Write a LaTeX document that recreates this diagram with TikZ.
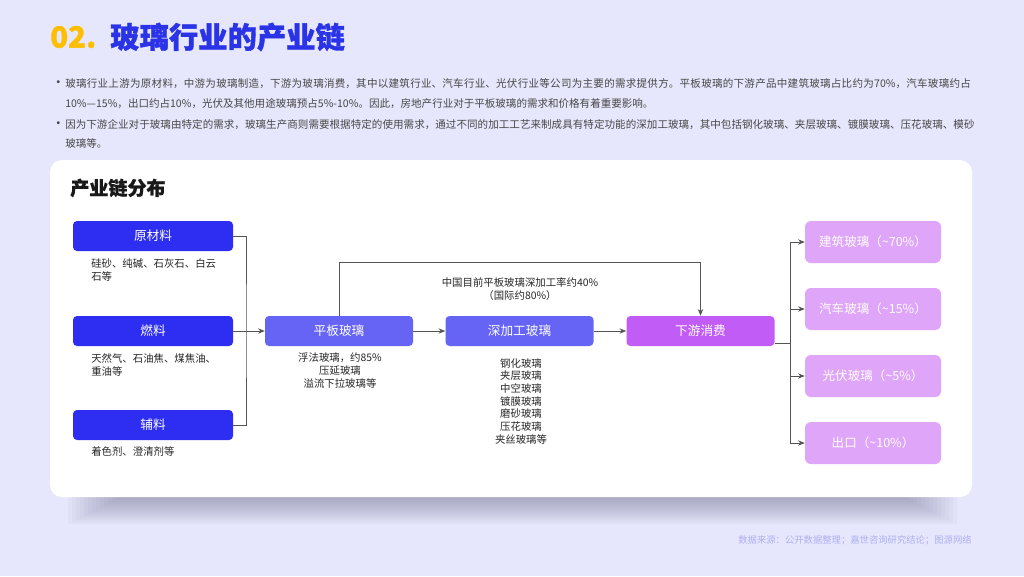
\documentclass[tikz,border=0pt]{standalone}
\usepackage{fontspec}
\setmainfont{Noto Sans CJK SC}
\usetikzlibrary{arrows.meta,calc}
\XeTeXlinebreaklocale "zh"
\XeTeXlinebreakskip=0pt plus 1pt

\definecolor{pagebg}{HTML}{E6E7FC}
\definecolor{shadowgray}{HTML}{6E6C8C}
\definecolor{titleyellow}{HTML}{FFBE00}
\definecolor{titleblue}{HTML}{2B33E6}
\definecolor{inputblue}{HTML}{2E2EF2}
\definecolor{midblue}{HTML}{6564F4}
\definecolor{downpurple}{HTML}{C15DF6}
\definecolor{endpurple}{HTML}{DFA5F8}
\definecolor{linegray}{HTML}{555555}
\definecolor{textdark}{HTML}{262626}
\definecolor{sourcegray}{HTML}{AEB0F2}

\tikzset{
  heading/.style={anchor=west, inner sep=0pt, font=\fontsize{22}{24}\bfseries\addfontfeature{FakeBold=1.2}},
  inbox/.style={fill=inputblue, text=white, rounded corners=3pt, minimum width=120pt, minimum height=22.5pt, font=\fontsize{9.5}{11}\selectfont},
  midbox/.style={inbox, fill=midblue, minimum width=111pt},
  endbox/.style={fill=endpurple, text=white, rounded corners=4.5pt, minimum width=102pt, minimum height=31.5pt, font=\fontsize{9.4}{11}\selectfont},
  desc/.style={text=textdark, inner sep=0pt, font=\fontsize{7.8}{9.75}\selectfont},
  bodyline/.style={text=textdark!85, inner sep=0pt, anchor=base west, font=\fontsize{7.9}{10}\selectfont},
  bodyfull/.style={bodyline, text width=682.5pt, execute at begin node={\parfillskip=0pt\relax}},
  bulletmark/.style={bodyline, font=\fontsize{10.5}{10}\selectfont},
  link/.style={draw=linegray, line width=0.6pt},
  linkarrow/.style={link, -{Stealth[length=5pt,width=4pt]}}
}

\begin{document}
\begin{tikzpicture}[x=0.75pt, y=0.75pt]
    % Page background, 1024 x 576 px
    \fill[pagebg] (0,0) rectangle (1024,-576);
    \useasboundingbox (0,0) rectangle (1024,-576);

    % Title
    \node[heading, text=titleyellow] (titlenum) at (50,-37) {02.};
    \node[heading, text=titleblue] (titletext) at (110,-37) {玻璃行业的产业链};

    % Bullet text (baselines)
    \node[bulletmark] (bul1) at (51,-87.5) {•};
    \node[bodyfull] (para1a) at (65,-87) {玻璃行业上游为原材料，中游为玻璃制造，下游为玻璃消费，其中以建筑行业、汽车行业、光伏行业等公司为主要的需求提供方。平板玻璃的下游产品中建筑玻璃占比约为70\%，汽车玻璃约占};
    \node[bodyline] (para1b) at (65,-107) {10\%—15\%，出口约占10\%，光伏及其他用途玻璃预占5\%-10\%。因此，房地产行业对于平板玻璃的需求和价格有着重要影响。};
    \node[bulletmark] (bul2) at (51,-128.5) {•};
    \node[bodyfull] (para2a) at (65,-128) {因为下游企业对于玻璃由特定的需求，玻璃生产商则需要根据特定的使用需求，通过不同的加工工艺来制成具有特定功能的深加工玻璃，其中包括钢化玻璃、夹层玻璃、镀膜玻璃、压花玻璃、模砂};
    \node[bodyline] (para2b) at (65,-147) {玻璃等。};

    % Soft shadow under the card, layered
    \foreach \i in {0,...,12}
        \fill[shadowgray, opacity=0.045] (68+4*\i,-490) rectangle (957-4*\i,-524+2*\i);

    % White card
    \fill[white, rounded corners=9pt] (50,-160) rectangle (972,-497);
    \node[anchor=west, inner sep=0pt, text=black!90, font=\fontsize{14.3}{16}\bfseries\addfontfeature{FakeBold=0.8}] (cardtitle) at (70,-188) {产业链分布};

    % Inputs
    \node[inbox] (raw) at (153,-236) {原材料};
    \node[inbox] (fuel) at (153,-331) {燃料};
    \node[inbox] (aux) at (153,-425) {辅料};
    \node[desc, anchor=north west, align=left] (rawtxt) at (91,-258) {硅砂、纯碱、石灰石、白云\\石等};
    \node[desc, anchor=north west, align=left] (fueltxt) at (91,-353) {天然气、石油焦、煤焦油、\\重油等};
    \node[desc, anchor=north west, align=left] (auxtxt) at (91,-446) {着色剂、澄清剂等};

    % Glass making and processing
    \node[midbox] (flat) at (339,-331) {平板玻璃};
    \node[midbox] (deep) at (519.5,-331) {深加工玻璃};
    \node[midbox, fill=downpurple] (down) at (700.5,-331) {下游消费};
    \node[desc, anchor=north, align=center] (flattxt) at (340,-352) {浮法玻璃，约85\%\\压延玻璃\\溢流下拉玻璃等};
    \node[desc, anchor=north, align=center, font=\fontsize{7.8}{9.5}\selectfont] (deeptxt) at (521,-358) {钢化玻璃\\夹层玻璃\\中空玻璃\\镀膜玻璃\\磨砂玻璃\\压花玻璃\\夹丝玻璃等};
    \node[desc, anchor=north, align=center] (ratetxt) at (520,-277) {中国目前平板玻璃深加工率约40\%\\（国际约80\%）};

    % End uses
    \node[endbox] (build) at (873,-242) {建筑玻璃（\textasciitilde70\%）};
    \node[endbox] (car) at (873,-309) {汽车玻璃（\textasciitilde15\%）};
    \node[endbox] (solar) at (873,-376) {光伏玻璃（\textasciitilde5\%）};
    \node[endbox] (export) at (873,-443) {出口（\textasciitilde10\%）};

    % Connectors
    \coordinate (lbus) at (246,-331);
    \coordinate (topturn) at (339,-262);
    \coordinate (rbus) at (790,-343);
    \draw[link] (raw.east) -| (lbus) |- (aux.east);
    \draw[linkarrow] (fuel.east) -- (flat.west);
    \draw[linkarrow] (flat) -- (deep);
    \draw[linkarrow] (deep) -- (down);
    \draw[linkarrow] (flat.north) -- (topturn) -| (down.north);
    \draw[link] (down.east |- rbus) -- (rbus);
    \draw[link] (rbus |- build.west) -- (rbus |- export.west);
    \foreach \target in {build,car,solar,export}
        \draw[linkarrow] (rbus |- \target.west) -- (\target.west);

    % Source note
    \node[anchor=east, inner sep=0pt, text=sourcegray, font=\fontsize{7}{8}\selectfont] (source) at (972,-540) {数据来源：公开数据整理；嘉世咨询研究结论；图源网络};
\end{tikzpicture}
\end{document}
